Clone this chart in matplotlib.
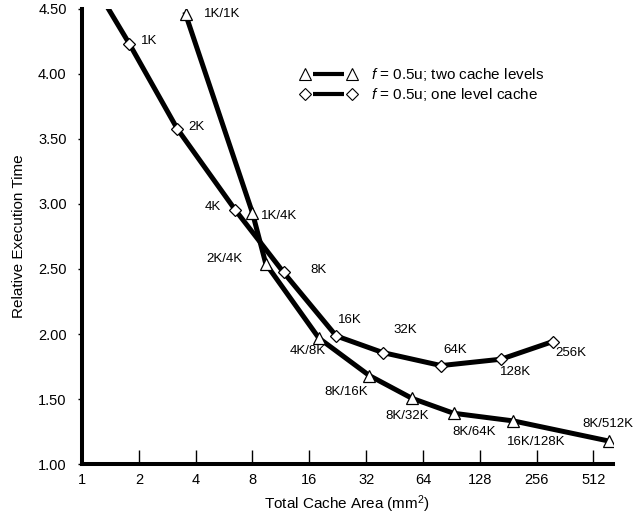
import matplotlib.pyplot as plt
import numpy as np
from matplotlib.legend_handler import HandlerBase
from matplotlib.lines import Line2D

plt.rcParams['font.family'] = ['Liberation Sans', 'DejaVu Sans']
plt.rcParams['mathtext.fontset'] = 'custom'
plt.rcParams['mathtext.rm'] = 'Liberation Sans'
plt.rcParams['mathtext.it'] = 'Liberation Sans:italic'

# one level cache (diamonds); first point lies above the visible range
one_area = [0.95, 1.78, 3.2, 6.47, 11.7, 22.2, 39.2, 79.9, 166, 311]
one_time = [4.89, 4.23, 3.575, 2.955, 2.473, 1.986, 1.858, 1.758, 1.807, 1.942]
one_lbl = ['', '1K', '2K', '4K', '8K', '16K', '32K', '64K', '128K', '256K']

# two cache levels (triangles)
two_area = [3.54, 8.0, 9.41, 18.0, 33.3, 55.9, 92.9, 193, 616]
two_time = [4.455, 2.93, 2.54, 1.968, 1.681, 1.507, 1.392, 1.333, 1.179]
two_lbl = ['1K/1K', '1K/4K', '2K/4K', '4K/8K', '8K/16K', '8K/32K',
           '8K/64K', '16K/128K', '8K/512K']

# label offsets in pixels (dx, dy up)
one_off = [(0, 0), (20, 3), (19, 2), (-22, 3), (35, 2), (14, 16), (22, 23),
           (14, 16), (14, -13), (18, -11)]
two_off = [(37, 0), (27, -3), (-41, 5), (-11, -13), (-23, -16), (-5, -18),
           (21, -19), (23, -21), (-1, 17)]


class EndMarkers(HandlerBase):
    # marker at each end, short thick line between them
    def create_artists(self, legend, orig, xdescent, ydescent, width, height,
                       fontsize, trans):
        y = height / 2 - ydescent
        x0 = -xdescent
        x1 = x0 + width
        gap = 0.17 * width
        seg = Line2D([x0 + gap, x1 - gap], [y, y], color='black', lw=3,
                     solid_capstyle='butt', transform=trans)
        mk = Line2D([x0, x1], [y, y], ls='none', marker=orig.get_marker(),
                    ms=orig.get_markersize(), mfc='white', mec='black',
                    mew=0.8, transform=trans)
        return [seg, mk]


fig = plt.figure(figsize=(6.41, 5.18), dpi=100)
ax = fig.add_axes([82/641, 1-464.3/518, (613-82)/641, (464.3-8.5)/518])

l2, = ax.plot(two_area, two_time, color='black', lw=3.6, marker='^', ms=8.8,
              mfc='white', mec='black', mew=0.9,
              label='$f$ = 0.5u; two cache levels')
l1, = ax.plot(one_area, one_time, color='black', lw=3.6, marker='D', ms=6,
              mfc='white', mec='black', mew=0.9,
              label='$f$ = 0.5u; one level cache')

for x, y, t, o in zip(one_area, one_time, one_lbl, one_off):
    if t:
        ax.annotate(t, (x, y), xytext=o, textcoords='offset pixels',
                    ha='center', va='center', fontsize=9.5)
for x, y, t, o in zip(two_area, two_time, two_lbl, two_off):
    ax.annotate(t, (x, y), xytext=o, textcoords='offset pixels',
                ha='center', va='center', fontsize=9.5, annotation_clip=False)

ax.set_xscale('log', base=2)
ax.set_xlim(1, 650)
ax.set_ylim(1, 4.5)
xt = [1, 2, 4, 8, 16, 32, 64, 128, 256, 512]
ax.set_xticks(xt)
ax.set_xticklabels([str(v) for v in xt])
ax.xaxis.set_minor_locator(plt.NullLocator())
yt = np.arange(1.0, 4.51, 0.5)
ax.set_yticks(yt)
ax.set_yticklabels(['%.2f' % v for v in yt])

for s in ['top', 'right']:
    ax.spines[s].set_visible(False)
for s in ['left', 'bottom']:
    ax.spines[s].set_linewidth(2.9)
ax.tick_params(axis='x', direction='in', length=10, width=1, labelsize=10.5, pad=6)
ax.tick_params(axis='y', direction='out', length=3, width=1, labelsize=10.5, pad=8)

ax.set_xlabel('Total Cache Area (mm$^{2}$)', fontsize=11, labelpad=5)
ax.set_ylabel('Relative Execution Time', fontsize=11, labelpad=9)

ax.legend(handles=[l2, l1], loc='upper left',
          bbox_to_anchor=(305/641, 1-66/518), bbox_transform=fig.transFigure,
          frameon=False, handler_map={Line2D: EndMarkers()},
          handlelength=3.1, fontsize=11, handletextpad=1.25,
          labelspacing=0.2, borderpad=0, borderaxespad=0)

fig.savefig('out.png', dpi=100)
